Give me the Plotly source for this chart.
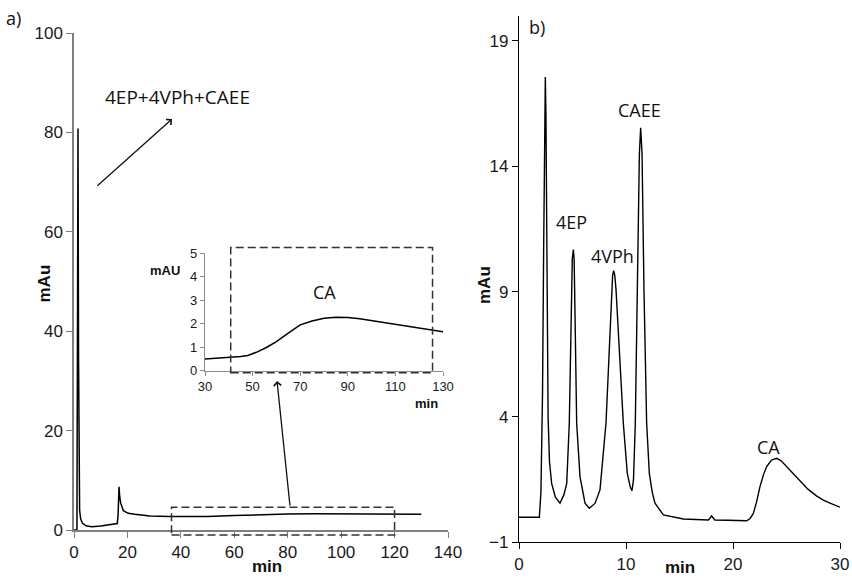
import plotly.graph_objects as go

# ---------------- data ----------------
# panel a) full chromatogram (min, mAU)
A_T = [0, 1.1, 1.3, 1.5, 1.7, 1.9, 2.1, 2.5, 3.2, 4.5, 6.6, 10, 13.5, 16.2, 16.5, 16.85, 17.1,
       17.47, 18.47, 20.3, 22.8, 28.4, 35.9, 45, 50, 60, 70, 80, 90, 100, 110, 120, 130]
A_Y = [0, 0, 40, 80.8, 35, 10, 4, 2.2, 1.35, 0.85, 0.67, 0.8, 1.0, 1.3, 3.0, 8.7, 6.8,
       5.4, 3.9, 3.36, 3.16, 2.82, 2.7, 2.65, 2.7, 2.9, 3.1, 3.2, 3.25, 3.22, 3.2, 3.18, 3.15]

# inset (zoom on CA region)
I_T = [30, 40, 45, 48, 52, 56, 60, 65, 70, 75, 80, 85, 90, 95, 100, 110, 120, 125, 130]
I_Y = [0.5, 0.56, 0.6, 0.65, 0.8, 1.0, 1.24, 1.6, 1.95, 2.12, 2.23, 2.28, 2.27, 2.21, 2.13,
       1.95, 1.8, 1.73, 1.66]

# panel b) chromatogram
B_T = [0, 1.9, 2.05, 2.2, 2.3, 2.4, 2.46, 2.52, 2.6, 2.65, 2.72, 2.85, 3.05, 3.4, 3.83,
       4.2, 4.46, 4.7, 4.89, 4.98, 5.08, 5.15, 5.2, 5.39, 5.7, 6.17, 6.57, 7.1, 7.57, 8.13,
       8.41, 8.66, 8.75, 8.85, 8.95, 9.07, 9.38, 9.75, 10.12, 10.4, 10.56, 10.7, 10.87,
       11.06, 11.25, 11.37, 11.5, 11.68, 11.93, 12.18, 12.45, 12.71, 13.49, 15.36, 17.7,
       18.0, 18.3, 19.5, 21.28, 21.6, 21.9, 22.2, 22.52, 22.85, 23.15, 23.6, 24.08, 24.5,
       25.0, 25.6, 26.27, 27.0, 27.8, 28.4, 29.07, 30]
B_Y = [0.0, 0.0, 1.0, 5.0, 10.5, 16.0, 17.56, 16.0, 11.5, 8.0, 4.0, 2.2, 1.35, 0.8, 0.56,
       0.9, 1.35, 3.75, 9.06, 10.3, 10.68, 10.3, 9.06, 3.75, 1.62, 0.56, 0.36, 0.55, 1.09, 3.75,
       6.41, 9.06, 9.65, 9.83, 9.65, 9.06, 6.41, 3.75, 1.75, 1.2, 1.06, 1.5, 3.75,
       9.06, 14.5, 15.53, 14.5, 9.06, 3.75, 1.75, 1.0, 0.56, 0.09, -0.07, -0.11,
       0.05, -0.11, -0.12, -0.14, -0.05, 0.15, 0.6, 1.22, 1.7, 2.02, 2.28, 2.35, 2.25,
       2.02, 1.72, 1.42, 1.12, 0.85, 0.69, 0.56, 0.40]

A_XTICKS = [0, 20, 40, 60, 80, 100, 120, 140]
A_YTICKS = [0, 20, 40, 60, 80, 100]
I_XTICKS = [30, 50, 70, 90, 110, 130]
I_YTICKS = [0, 1, 2, 3, 4, 5]
B_XTICKS = [0, 10, 20, 30]
B_YTICKS = [-1, 4, 9, 14, 19]

# ---------------- layout helpers ----------------
W, H = 852, 578
def px(x):
    return x / W
def py(y):
    return 1 - y / H

A_DX, A_RX = [px(74), px(448)], [0, 140]
A_DY, A_RY = [py(530), py(33)], [0, 100]
I_DX, I_RX = [px(205), px(443)], [30, 130]
I_DY, I_RY = [py(370.7), py(253.3)], [0, 5]
B_DX, B_RX = [px(519), px(840)], [0, 30]
B_DY, B_RY = [py(542.3), py(15.8)], [-1, 20]

def to_paper(v, dom, rng):
    return dom[0] + (v - rng[0]) / (rng[1] - rng[0]) * (dom[1] - dom[0])

TICKFONT = dict(family="Liberation Sans, Arial", size=17, color="#1a1a1a")
LBLFONT = dict(family="Open Sans", size=18, color="#111")

fig = go.Figure()
fig.add_trace(go.Scatter(x=A_T, y=A_Y, mode="lines", line=dict(color="black", width=1.5),
                         xaxis="x", yaxis="y", showlegend=False))
fig.add_trace(go.Scatter(x=I_T, y=I_Y, mode="lines", line=dict(color="black", width=1.5),
                         xaxis="x2", yaxis="y2", showlegend=False))
fig.add_trace(go.Scatter(x=B_T, y=B_Y, mode="lines", line=dict(color="black", width=1.4),
                         xaxis="x3", yaxis="y3", showlegend=False))

def axis(domain, rng, ticks, anchor, color, font, width=1.5, ticklen=6):
    return dict(domain=domain, range=rng, tickvals=ticks, anchor=anchor, showline=True,
                linecolor=color, linewidth=width, ticks="outside", ticklen=ticklen,
                tickcolor=color, tickwidth=1, showgrid=False, zeroline=False,
                tickfont=font, fixedrange=True, automargin=False)

small = dict(family="Liberation Sans, Arial", size=13, color="#1a1a1a")
fig.update_layout(
    template="none",
    width=W, height=H, margin=dict(l=0, r=0, t=0, b=0, pad=0, autoexpand=False),
    paper_bgcolor="white", plot_bgcolor="rgba(0,0,0,0)",
    xaxis=axis(A_DX, A_RX, A_XTICKS, "y", "#7f7f7f", TICKFONT),
    yaxis=axis(A_DY, A_RY, A_YTICKS, "x", "#7f7f7f", TICKFONT),
    xaxis2=axis(I_DX, I_RX, I_XTICKS, "y2", "#8c8c8c", small, width=1.3, ticklen=4),
    yaxis2=axis(I_DY, I_RY, I_YTICKS, "x2", "#8c8c8c", small, width=1.3, ticklen=4),
    xaxis3=axis(B_DX, B_RX, B_XTICKS, "y3", "#000000", TICKFONT, width=1.2),
    yaxis3=axis(B_DY, B_RY, B_YTICKS, "x3", "#000000", TICKFONT, width=1.2),
)

# zoom windows (dashed rectangles)
DASH = "8px,4px"
ZA_X, ZA_Y = [36.5, 120], [-1, 4.6]
ZI_X, ZI_Y = [40.8, 125.6], [-0.09, 5.25]
fig.add_shape(type="rect", xref="paper", yref="paper",
              x0=to_paper(ZA_X[0], A_DX, A_RX), x1=to_paper(ZA_X[1], A_DX, A_RX),
              y0=to_paper(ZA_Y[0], A_DY, A_RY), y1=to_paper(ZA_Y[1], A_DY, A_RY),
              line=dict(color="#333", width=1.5, dash=DASH))
fig.add_shape(type="rect", xref="paper", yref="paper",
              x0=to_paper(ZI_X[0], I_DX, I_RX), x1=to_paper(ZI_X[1], I_DX, I_RX),
              y0=to_paper(ZI_Y[0], I_DY, I_RY), y1=to_paper(ZI_Y[1], I_DY, I_RY),
              line=dict(color="#333", width=1.5, dash=DASH))

C = dict(xanchor="center", yanchor="middle", showarrow=False)
ann = []
# arrows
ann.append(dict(xref="x", yref="y", axref="x", ayref="y", x=36.7, y=82.7, ax=8.2, ay=69.0,
                text="", showarrow=True, arrowhead=4, arrowsize=1.1, arrowwidth=1.3,
                arrowcolor="#111"))
ann.append(dict(xref="x", yref="y", axref="x", ayref="y", x=76.0, y=30.0, ax=80.9, ay=4.6,
                text="", showarrow=True, arrowhead=4, arrowsize=1.1, arrowwidth=1.3,
                arrowcolor="#111"))
# peak labels
ann.append(dict(C, xref="x", yref="y", x=38.9, y=87.1, text="4EP+4VPh+CAEE",
                font=dict(LBLFONT, size=19)))
ann.append(dict(C, xref="x2", yref="y2", x=80.4, y=3.35, text="CA", font=LBLFONT))
for t, x, y in [("4EP", 4.93, 11.79), ("4VPh", 8.73, 10.4), ("CAEE", 11.3, 16.24),
                ("CA", 23.29, 2.79)]:
    ann.append(dict(C, xref="x3", yref="y3", x=x, y=y, text=t, font=LBLFONT))
# panel letters
ann.append(dict(C, xref="paper", yref="paper", x=px(13), y=py(18), text="a)", font=LBLFONT))
ann.append(dict(C, xref="paper", yref="paper", x=px(537), y=py(27), text="b)", font=LBLFONT))
# axis titles
BOLD = dict(family="Liberation Sans, Arial", size=17, color="#111")
ann.append(dict(C, xref="paper", yref="paper", x=px(43.5), y=py(284), text="<b>mAu</b>",
                textangle=-90, font=BOLD))
ann.append(dict(C, xref="paper", yref="paper", x=px(267), y=py(566), text="<b>min</b>",
                font=BOLD, borderpad=0))
ann.append(dict(C, xref="paper", yref="paper", x=px(484), y=py(285), text="<b>mAu</b>",
                textangle=-90, font=BOLD))
ann.append(dict(C, xref="paper", yref="paper", x=px(680), y=py(567), text="<b>min</b>",
                font=BOLD, borderpad=0))
SB = dict(family="Liberation Sans, Arial", size=13, color="#111")
ann.append(dict(C, xref="paper", yref="paper", x=px(165), y=py(270), text="<b>mAU</b>",
                font=SB))
ann.append(dict(C, xref="paper", yref="paper", x=px(427), y=py(403), text="<b>min</b>",
                font=SB))
fig.update_layout(annotations=ann)

fig.write_html("out.html", config={"displayModeBar": False},
               post_script="document.body.style.margin='0';")
